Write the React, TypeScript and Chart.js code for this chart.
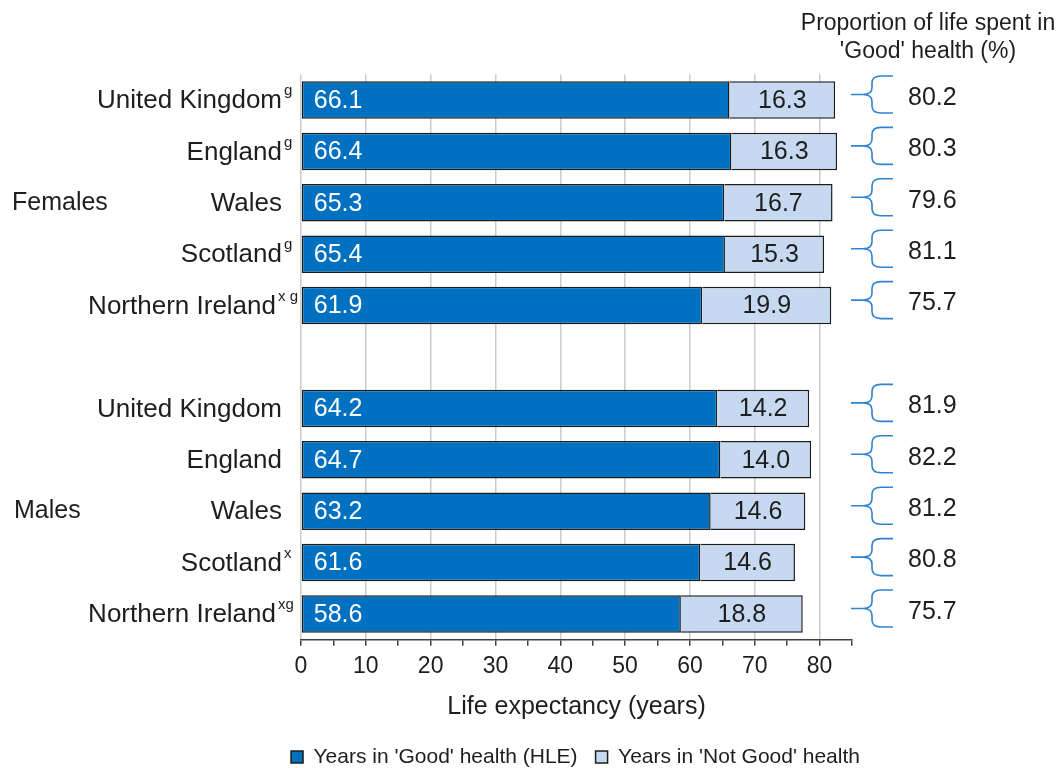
import React, { useEffect, useRef } from 'react';
import { Chart, registerables } from 'chart.js';

Chart.register(...registerables);

const FONT = "'Liberation Sans', Arial, sans-serif";

// ---- data ----
const categories = [
  'United Kingdom', 'England', 'Wales', 'Scotland', 'Northern Ireland', '',
  'United Kingdom', 'England', 'Wales', 'Scotland', 'Northern Ireland',
];
const superscripts = ['g', 'g', '', 'g', 'x g', '', '', '', '', 'x', 'xg'];
const goodHealthYears = [66.1, 66.4, 65.3, 65.4, 61.9, null, 64.2, 64.7, 63.2, 61.6, 58.6];
const notGoodHealthYears = [16.3, 16.3, 16.7, 15.3, 19.9, null, 14.2, 14.0, 14.6, 14.6, 18.8];
const proportionGood = [80.2, 80.3, 79.6, 81.1, 75.7, null, 81.9, 82.2, 81.2, 80.8, 75.7];
const groupLabels = ['Females', 'Males'];
const groupRows = [2, 8];
const seriesLabels = ["Years in 'Good' health (HLE)", "Years in 'Not Good' health"];
const headingLines = ['Proportion of life spent in', "'Good' health (%)"];
const axisTitle = 'Life expectancy (years)';
const xMin = 0;
const xMax = 85;
const xStep = 5;
const xLabelStep = 10;

const TEXT = '#1e1e1e';
const DARK = '#0070C0';
const LIGHT = '#C6D9F1';
const BRACE = '#2F83CF';

const annotations = {
  id: 'annotations',
  afterDatasetsDraw(chart: any) {
    const { ctx } = chart;
    ctx.save();
    ctx.font = `25px ${FONT}`;
    ctx.textBaseline = 'middle';
    const m0 = chart.getDatasetMeta(0);
    const m1 = chart.getDatasetMeta(1);
    m0.data.forEach((el: any, i: number) => {
      const v = goodHealthYears[i];
      if (v == null) return;
      const p = el.getProps(['x', 'y', 'base'], true);
      ctx.fillStyle = '#ffffff';
      ctx.textAlign = 'left';
      ctx.fillText(v.toFixed(1), p.base + 12, p.y + 1);
    });
    m1.data.forEach((el: any, i: number) => {
      const v = notGoodHealthYears[i];
      if (v == null) return;
      const p = el.getProps(['x', 'y', 'base'], true);
      ctx.fillStyle = TEXT;
      ctx.textAlign = 'center';
      ctx.fillText(v.toFixed(1), (p.base + p.x) / 2, p.y + 1);
    });
    ctx.restore();
  },
  afterDraw(chart: any) {
    const { ctx } = chart;
    const y = chart.scales.y;
    const x = chart.scales.x;
    ctx.save();
    ctx.textBaseline = 'middle';
    // category labels with superscripts
    categories.forEach((c, i) => {
      if (!c) return;
      const cy = y.getPixelForValue(i);
      const sup = superscripts[i];
      const right = 282 - (sup.length > 1 ? 6 : 0);
      ctx.fillStyle = TEXT;
      ctx.font = `26px ${FONT}`;
      ctx.textAlign = 'right';
      ctx.fillText(c, right, cy + 1);
      if (sup) {
        ctx.font = `15px ${FONT}`;
        ctx.textAlign = 'left';
        ctx.fillText(sup, right + 2, cy - 9);
      }
    });
    // group labels
    ctx.font = `25px ${FONT}`;
    ctx.textAlign = 'left';
    groupLabels.forEach((g, k) => {
      ctx.fillText(g, 12 + k * 2, y.getPixelForValue(groupRows[k]));
    });
    // braces and proportions
    const bx0 = x.right - 1;
    proportionGood.forEach((v, i) => {
      if (v == null) return;
      const cy = y.getPixelForValue(i);
      const c = cy - 5.5;
      const h = 18.5;
      ctx.strokeStyle = BRACE;
      ctx.lineWidth = 1.6;
      ctx.beginPath();
      ctx.moveTo(bx0, c);
      ctx.lineTo(bx0 + 12, c);
      ctx.quadraticCurveTo(bx0 + 21, c, bx0 + 21, c - 7);
      ctx.lineTo(bx0 + 21, c - h + 7);
      ctx.quadraticCurveTo(bx0 + 21, c - h, bx0 + 30, c - h);
      ctx.lineTo(bx0 + 42, c - h);
      ctx.moveTo(bx0 + 12, c);
      ctx.quadraticCurveTo(bx0 + 21, c, bx0 + 21, c + 7);
      ctx.lineTo(bx0 + 21, c + h - 7);
      ctx.quadraticCurveTo(bx0 + 21, c + h, bx0 + 30, c + h);
      ctx.lineTo(bx0 + 42, c + h);
      ctx.stroke();
      ctx.fillStyle = TEXT;
      ctx.font = `25px ${FONT}`;
      ctx.textAlign = 'left';
      ctx.fillText(v.toFixed(1), 908, cy - 2);
    });
    // heading
    ctx.font = `23px ${FONT}`;
    ctx.textAlign = 'center';
    ctx.fillStyle = TEXT;
    headingLines.forEach((t, k) => ctx.fillText(t, 928, 24 + k * 28));
    ctx.restore();
  },
};

export default function App() {
  const ref = useRef<HTMLCanvasElement | null>(null);
  useEffect(() => {
    if (!ref.current) return;
    Chart.defaults.font.family = FONT;
    Chart.defaults.color = TEXT;
    const chart = new Chart(ref.current, {
      type: 'bar',
      data: {
        labels: categories,
        datasets: [
          {
            label: seriesLabels[0],
            data: goodHealthYears as any,
            backgroundColor: DARK,
            borderColor: '#1c1c1c',
            borderWidth: 1.5,
            borderSkipped: false,
            categoryPercentage: 1,
            barPercentage: 0.73,
          },
          {
            label: seriesLabels[1],
            data: notGoodHealthYears as any,
            backgroundColor: LIGHT,
            borderColor: '#1c1c1c',
            borderWidth: 1.5,
            borderSkipped: 'start',
            categoryPercentage: 1,
            barPercentage: 0.73,
          },
        ],
      },
      options: {
        indexAxis: 'y',
        responsive: false,
        animation: false,
        devicePixelRatio: 1,
        layout: { padding: { left: 271, right: 179, top: 74.3, bottom: -9.5 } },
        plugins: {
          tooltip: { enabled: false },
          legend: {
            position: 'bottom',
            labels: {
              boxWidth: 12,
              boxHeight: 12,
              padding: 18,
              color: TEXT,
              font: { size: 21, family: FONT },
            },
          },
        },
        scales: {
          x: {
            stacked: true,
            min: xMin,
            max: xMax,
            afterFit: (s: any) => { s.height = 88.8; },
            ticks: {
              stepSize: xStep,
              autoSkip: false,
              maxRotation: 0,
              padding: 7,
              color: TEXT,
              font: { size: 23, family: FONT },
              callback: (v: any) => (Number(v) % xLabelStep === 0 ? String(v) : ''),
            },
            grid: {
              color: (c: any) => (c.tick && c.tick.value % xLabelStep === 0 ? '#cccccc' : 'rgba(0,0,0,0)'),
              lineWidth: 1.5,
              tickColor: '#404040',
              tickLength: 6,
              tickWidth: 1.5,
            },
            border: { display: true, color: '#404040', width: 1.5 },
            title: {
              display: true,
              text: axisTitle,
              color: TEXT,
              font: { size: 25, family: FONT },
              padding: { top: 0, bottom: 6.5 },
            },
          },
          y: {
            stacked: true,
            afterFit: (s: any) => { s.width = 30; },
            ticks: { display: false },
            grid: { display: false },
            border: { display: false },
          },
          y2: {
            type: 'category',
            position: 'right',
            labels: categories,
            afterFit: (s: any) => { s.width = 28; },
            ticks: { display: false },
            grid: { display: false },
            border: { display: false },
          },
        },
      } as any,
      plugins: [annotations],
    });
    return () => chart.destroy();
  }, []);
  return (
    <div style={{ position: 'fixed', left: 0, top: 0, width: 1059, height: 768, background: '#ffffff' }}>
      <canvas ref={ref} width={1059} height={768} style={{ display: 'block' }} />
    </div>
  );
}
